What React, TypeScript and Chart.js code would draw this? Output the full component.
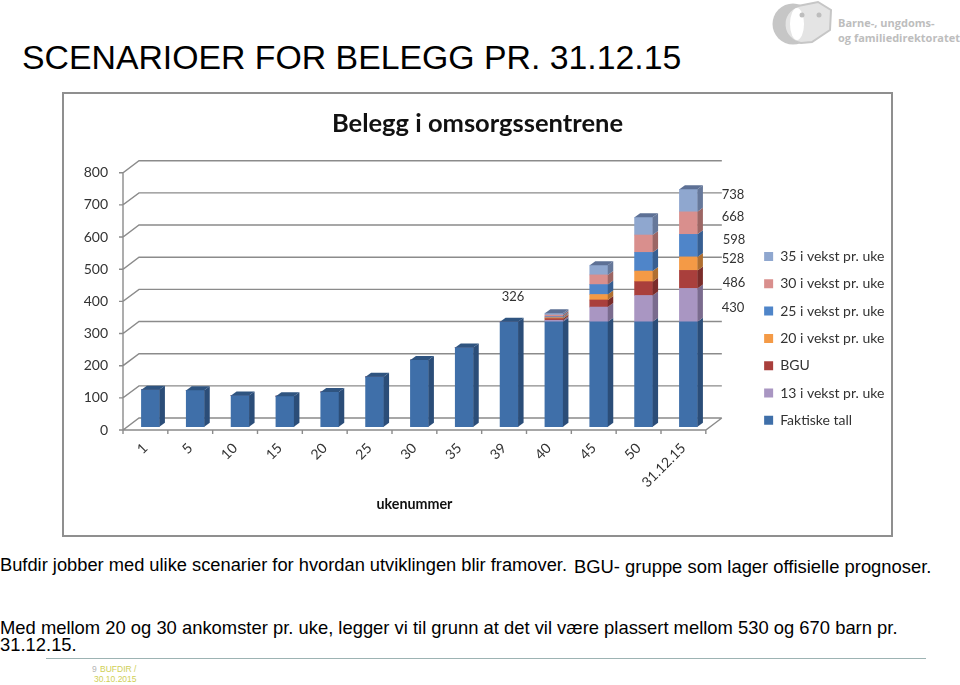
import React, { useEffect, useRef } from "react";
import { Chart, registerables } from "chart.js";

Chart.register(...registerables);

const weeks = ["1", "5", "10", "15", "20", "25", "30", "35", "39", "40", "45", "50", "31.12.15"];
const faktiske = [115, 113, 97, 95, 108, 155, 207, 246, 326, 326, 326, 326, 326];
const vekst13 = [0, 0, 0, 0, 0, 0, 0, 0, 0, 5, 46, 82, 104];
const bgu = [0, 0, 0, 0, 0, 0, 0, 0, 0, 5, 22, 43, 56];
const vekst20 = [0, 0, 0, 0, 0, 0, 0, 0, 0, 3, 17, 33, 42];
const vekst25 = [0, 0, 0, 0, 0, 0, 0, 0, 0, 3, 31, 58, 70];
const vekst30 = [0, 0, 0, 0, 0, 0, 0, 0, 0, 5, 30, 54, 70];
const vekst35 = [0, 0, 0, 0, 0, 0, 0, 0, 0, 6, 30, 55, 70];

const seriesNames = ["Faktiske tall", "13 i vekst pr. uke", "BGU", "20 i vekst pr. uke", "25 i vekst pr. uke", "30 i vekst pr. uke", "35 i vekst pr. uke"];
const seriesColors = ["#3f6fa9", "#a996c2", "#a93f3c", "#f49a46", "#4f85c9", "#d98f8d", "#8fa7cf"];
const sideColors = ["#2b4d78", "#7a6b8e", "#7a2c2a", "#b06f30", "#375f92", "#9c6664", "#66789a"];
const topColors = ["#2f5480", "#7f7096", "#802f2d", "#b87434", "#3a6399", "#a36a68", "#5d7095"];

const yTicks = [0, 100, 200, 300, 400, 500, 600, 700, 800];

const chartTitle = "Belegg i omsorgssentrene";
const xTitle = "ukenummer";
const pageTitle = "SCENARIOER FOR BELEGG PR. 31.12.15";

const GRID = "#8b8b8b";
const DX = 5.5;
const DY = 4;
const BAR_SHIFT_X = 5;
const BAR_SHIFT_Y = -3.3;
const BACK_X = 16;
const BACK_Y = -12;
const LEGEND_SHIFT_X = -3;
const LEGEND_SHIFT_Y = 63.5;

const threeD = {
  id: "threeD",
  afterLayout(chart: any) {
    chart.legend.top += LEGEND_SHIFT_Y;
    chart.legend.bottom += LEGEND_SHIFT_Y;
    chart.legend.left += LEGEND_SHIFT_X;
    chart.legend.right += LEGEND_SHIFT_X;
  },
  beforeDatasetsDraw(chart: any) {
    const { ctx, chartArea: a, scales } = chart;
    const y = scales.y;
    ctx.save();
    ctx.strokeStyle = GRID;
    ctx.lineWidth = 1.4;
    ctx.beginPath();
    for (const v of yTicks) {
      const p = y.getPixelForValue(v);
      ctx.moveTo(a.left - 4, p);
      ctx.lineTo(a.left, p);
      ctx.lineTo(a.left + BACK_X, p + BACK_Y);
      ctx.lineTo(a.right + BACK_X, p + BACK_Y);
    }
    ctx.moveTo(a.left, a.top);
    ctx.lineTo(a.left, a.bottom);
    ctx.lineTo(a.right, a.bottom);
    ctx.lineTo(a.right + BACK_X, a.bottom + BACK_Y);
    const step = (a.right - a.left) / weeks.length;
    for (let i = 0; i <= weeks.length; i++) {
      const px = a.left + step * i;
      ctx.moveTo(px, a.bottom);
      ctx.lineTo(px, a.bottom + 4);
    }
    ctx.stroke();
    ctx.restore();
    ctx.save();
    ctx.translate(BAR_SHIFT_X, BAR_SHIFT_Y);
  },
  afterDatasetsDraw(chart: any) {
    const { ctx } = chart;
    const n = chart.data.datasets.length;
    chart.data.datasets.forEach((ds: any, d: number) => {
      chart.getDatasetMeta(d).data.forEach((el: any, i: number) => {
        if (!ds.data[i]) return;
        const r = el.x + el.width / 2;
        ctx.fillStyle = sideColors[d];
        ctx.beginPath();
        ctx.moveTo(r, el.y);
        ctx.lineTo(r + DX, el.y - DY);
        ctx.lineTo(r + DX, el.base - DY);
        ctx.lineTo(r, el.base);
        ctx.closePath();
        ctx.fill();
        let top = true;
        for (let k = d + 1; k < n; k++) if (chart.data.datasets[k].data[i]) top = false;
        if (top) {
          const l = el.x - el.width / 2;
          ctx.fillStyle = topColors[d];
          ctx.beginPath();
          ctx.moveTo(l, el.y);
          ctx.lineTo(l + DX, el.y - DY);
          ctx.lineTo(r + DX, el.y - DY);
          ctx.lineTo(r, el.y);
          ctx.closePath();
          ctx.fill();
        }
      });
    });
    ctx.restore();
  },
};

const valueNotes = [
  { text: "738", x: 733, y: 194 },
  { text: "668", x: 733, y: 216 },
  { text: "598", x: 734, y: 239 },
  { text: "528", x: 733, y: 258 },
  { text: "486", x: 734, y: 282 },
  { text: "430", x: 733, y: 307 },
  { text: "326", x: 513, y: 296 },
];

const abs = (left: number, top: number, extra: any = {}) => ({
  position: "absolute" as const,
  left,
  top,
  whiteSpace: "nowrap" as const,
  ...extra,
});
const bodyFont = { fontFamily: "'Liberation Sans', Arial, sans-serif", fontSize: 18.4, lineHeight: "20px", color: "#000" };
const smallFont = { fontFamily: "'Liberation Sans', Arial, sans-serif", fontSize: 8.5, lineHeight: "11px" };

export default function App() {
  const ref = useRef<HTMLCanvasElement>(null);
  useEffect(() => {
    const values = [faktiske, vekst13, bgu, vekst20, vekst25, vekst30, vekst35];
    const chart = new Chart(ref.current!, {
      type: "bar",
      data: {
        labels: weeks,
        datasets: values.map((data, i) => ({
          label: seriesNames[i],
          data,
          backgroundColor: seriesColors[i],
          borderWidth: 0,
          barThickness: 18,
          clip: false,
        })),
      },
      plugins: [threeD],
      options: {
        responsive: false,
        animation: false,
        layout: { padding: 0 },
        plugins: {
          tooltip: { enabled: false },
          title: {
            display: true,
            text: chartTitle,
            color: "#111",
            font: { family: "Lato", size: 25.5, weight: "bold" },
            padding: { top: 15, bottom: 34.1 },
          },
          legend: {
            position: "right",
            align: "start",
            fullSize: false,
            reverse: true,
            labels: {
              boxWidth: 9,
              boxHeight: 9,
              padding: 13.3,
              color: "#333",
              font: { family: "Lato", size: 14 },
            },
          },
        },
        scales: {
          x: {
            stacked: true,
            grid: { display: false },
            border: { display: false },
            ticks: { minRotation: 45, maxRotation: 45, color: "#333", font: { family: "Lato", size: 14 }, padding: 2, autoSkip: false },
            title: { display: true, text: xTitle, color: "#111", font: { family: "Lato", size: 14.3, weight: "bold" }, padding: { top: 0, bottom: 23 } },
            afterFit: (s: any) => { s.height = 106; },
          },
          y: {
            stacked: true,
            min: 0,
            max: 800,
            grid: { display: false },
            border: { display: false },
            ticks: { stepSize: 100, color: "#333", font: { family: "Lato", size: 14 }, padding: 7 },
            afterFit: (s: any) => { s.width = 60; },
          },
          spacer: {
            position: "right",
            display: true,
            grid: { display: false },
            border: { display: false },
            ticks: { display: false },
            afterFit: (s: any) => { s.width = 48; },
          },
        },
      } as any,
    });
    return () => chart.destroy();
  }, []);

  return (
    <div style={{ position: "absolute", left: 0, top: 0, width: 960, height: 685, overflow: "hidden", background: "#fff" }}>
      <div style={abs(22, 37, { fontFamily: "'Liberation Sans', Arial, sans-serif", fontSize: 33.8, lineHeight: "40px", color: "#000" })}>{pageTitle}</div>

      <svg width={70} height={50} style={{ position: "absolute", left: 768, top: 0 }}>
        <circle cx={25} cy={24} r={20.5} fill="#c6c6c6" />
        <ellipse cx={33} cy={24} rx={13} ry={19} fill="#fff" />
        <path d="M30 6 L50 2 L63 10 L62 30 L44 42 L33 43 A19 19 0 0 1 30 6Z" fill="#e4e4e4" stroke="#c6c6c6" strokeWidth={2} />
        <ellipse cx={29} cy={24} rx={7} ry={16} fill="#fff" />
        <circle cx={34} cy={15} r={2.5} fill="#bdbdbd" />
        <circle cx={51} cy={15} r={2.5} fill="#bdbdbd" />
      </svg>
      <div style={abs(838, 15, { fontFamily: "'Open Sans', sans-serif", fontWeight: 700, fontSize: 11, lineHeight: "15px", color: "#bdbdbd" })}>
        Barne-, ungdoms-<br />og familiedirektoratet
      </div>

      <div style={{ position: "absolute", left: 62, top: 92, width: 827, height: 441, border: "2px solid #8f8f8f", background: "#fff" }} />
      <canvas ref={ref} width={829} height={443} style={{ position: "absolute", left: 63, top: 93 }} />

      {valueNotes.map((n) => (
        <div key={n.text} style={abs(n.x - 15, n.y - 9, { width: 30, textAlign: "center", fontFamily: "Lato", fontSize: 13, lineHeight: "18px", color: "#333" })}>{n.text}</div>
      ))}

      <div style={abs(0, 555, { ...bodyFont, fontSize: 18.3 })}>Bufdir jobber med ulike scenarier for hvordan utviklingen blir framover.</div>
      <div style={abs(574, 557, bodyFont)}>BGU- gruppe som lager offisielle prognoser.</div>
      <div style={abs(0, 618, bodyFont)}>Med mellom 20 og 30 ankomster pr. uke, legger vi til grunn at det vil være plassert mellom 530 og 670 barn pr.</div>
      <div style={abs(0, 635, bodyFont)}>31.12.15.</div>

      <div style={{ position: "absolute", left: 46, top: 658, width: 880, height: 1, background: "#9db3b3" }} />
      <div style={abs(92, 664, { ...smallFont, color: "#b5b5b5" })}>9</div>
      <div style={abs(100, 664, { ...smallFont, color: "#cfcf55" })}>BUFDIR /</div>
      <div style={abs(94, 674, { ...smallFont, color: "#cfcf55" })}>30.10.2015</div>
    </div>
  );
}
